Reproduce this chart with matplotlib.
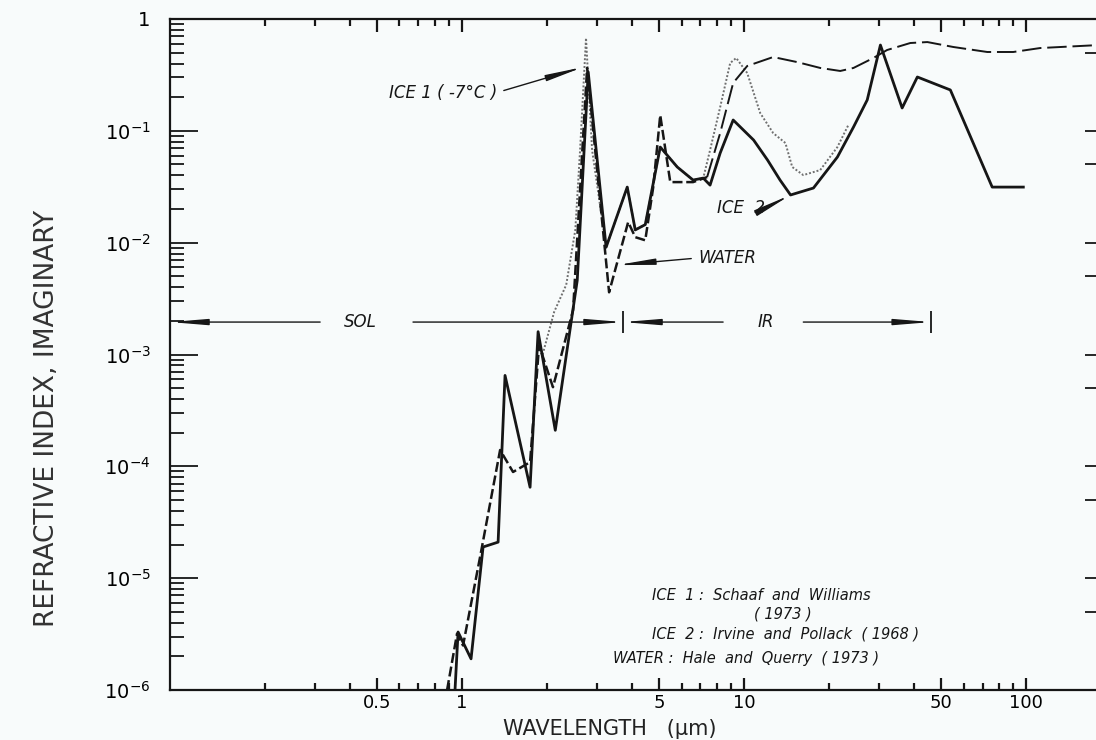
import matplotlib
matplotlib.use('Agg')
import matplotlib.pyplot as plt
from matplotlib.ticker import FixedLocator, NullFormatter, NullLocator, LogLocator

plt.rcParams['font.family'] = ['DejaVu Sans']

# ICE 2 : Irvine and Pollack (1968) -- solid line
ice2_wl = [0.944, 0.968, 1.076, 1.187, 1.342, 1.42, 1.742, 1.86, 2.14, 2.56, 2.80,
           3.24, 3.85, 4.11, 4.46, 5.04, 5.79, 6.59, 7.16, 7.57, 8.22, 9.14, 10.8,
           12.1, 13.4, 14.6, 17.6, 21.4, 24.4, 27.3, 30.4, 36.3, 41.1, 53.8, 75.7, 97.6]
ice2_k = [1.0e-6, 3.3e-6, 1.9e-6, 1.9e-5, 2.1e-5, 6.5e-4, 6.5e-5, 1.6e-3, 2.1e-4, 4.6e-3, 0.336,
          9.1e-3, 0.0314, 0.013, 0.0145, 0.0716, 0.0475, 0.0363, 0.0378, 0.0327, 0.0633, 0.125, 0.0827,
          0.0548, 0.0363, 0.0267, 0.0308, 0.0583, 0.108, 0.189, 0.585, 0.16, 0.303, 0.232, 0.0314, 0.0314]

# ICE 1 : Schaaf and Williams (1973), -7 C -- dotted line
ice1_wl = [1.93, 2.12, 2.34, 2.52, 2.62, 2.75, 2.89, 3.24, 3.85, 4.11, 4.46, 5.04, 5.79,
           6.59, 7.16, 7.57, 8.22, 8.92, 9.37, 10.25, 11.4, 12.67, 14.0, 14.8, 16.2, 18.6, 21.4, 23.4]
ice1_k = [1.0e-3, 2.4e-3, 4.2e-3, 0.013, 0.0673, 0.676, 0.0673, 9.1e-3, 0.0314, 0.013, 0.0145, 0.0716, 0.0475,
          0.0363, 0.0378, 0.0673, 0.163, 0.404, 0.448, 0.329, 0.144, 0.0955, 0.0778, 0.0475, 0.0402, 0.0446, 0.0716, 0.1127]

# WATER : Hale and Querry (1973) -- short dashes (solar / near IR)
water_wl = [0.885, 0.96, 1.008, 1.158, 1.364, 1.516, 1.742, 1.875, 2.10, 2.475, 2.775,
            3.32, 3.88, 4.11, 4.46, 4.76, 5.04, 5.47, 6.59, 7.39]
water_k = [1.0e-6, 3.2e-6, 2.5e-6, 1.54e-5, 1.4e-4, 8.9e-5, 1.09e-4, 1.21e-3, 5.1e-4, 2.5e-3, 0.365,
           3.6e-3, 0.0153, 0.0112, 0.0105, 0.0314, 0.138, 0.0348, 0.0348, 0.0386]

# WATER -- long dashes (far IR)
water_ir_wl = [7.39, 8.22, 9.14, 10.25, 12.67, 15.4, 18.6, 21.9, 24.4, 28.7, 32.1,
               38.8, 44.6, 55.1, 72.7, 89.9, 112, 181]
water_ir_k = [0.0386, 0.0955, 0.268, 0.38, 0.457, 0.412, 0.365, 0.343, 0.365, 0.448, 0.528,
              0.61, 0.622, 0.562, 0.507, 0.507, 0.55, 0.585]

x_major = [0.5, 1, 5, 10, 50, 100]
x_labels = ['0.5', '1', '5', '10', '50', '100']
x_minor = [0.2, 0.3, 0.4, 0.6, 0.7, 0.8, 0.9, 2, 3, 4, 6, 7, 8, 9,
           20, 30, 40, 60, 70, 80, 90]
y_major = [1e-6, 1e-5, 1e-4, 1e-3, 1e-2, 1e-1, 1]
y_labels = [r'$10^{-6}$', r'$10^{-5}$', r'$10^{-4}$', r'$10^{-3}$', r'$10^{-2}$', r'$10^{-1}$', '1']
y_right = [1e-6, 5e-6, 1e-5, 5e-5, 1e-4, 5e-4, 1e-3, 5e-3, 1e-2, 5e-2, 1e-1, 5e-1]

# SOL / IR band markers
x_start = 0.0922
sol_ir_edge = 3.72
ir_end = 46
band_k = 1.95e-3

bg = '#f8fbfb'
ink = '#161616'

fig = plt.figure(figsize=(10.96, 7.4), dpi=100, facecolor=bg)
ax = fig.add_axes([170/1096, 50/740, 929/1096, 671/740])
ax.set_facecolor(bg)
ax.set_xscale('log')
ax.set_yscale('log')
ax.set_xlim(x_start, 181)
ax.set_ylim(1e-6, 1)

ax.plot(ice1_wl, ice1_k, color='#6f6f6f', lw=1.4, linestyle=(0, (1, 1)))
ax.plot(water_wl, water_k, color=ink, lw=1.8, linestyle=(0, (4, 1.5)))
ax.plot(water_ir_wl, water_ir_k, color=ink, lw=1.4, linestyle=(0, (10, 3)))
ax.plot(ice2_wl, ice2_k, color=ink, lw=2.0)

for s in ['left', 'bottom', 'top']:
    ax.spines[s].set_linewidth(1.6)
    ax.spines[s].set_color(ink)
ax.spines['right'].set_visible(False)

ax.xaxis.set_major_locator(FixedLocator(x_major))
ax.set_xticklabels(x_labels)
ax.xaxis.set_minor_locator(FixedLocator(x_minor))
ax.xaxis.set_minor_formatter(NullFormatter())
ax.tick_params(axis='x', which='both', direction='in', top=True, bottom=True, color=ink)
ax.tick_params(axis='x', which='major', length=9, width=1.6, labelsize=13, pad=3)
ax.tick_params(axis='x', which='minor', length=5, width=1.6)

ax.yaxis.set_major_locator(FixedLocator(y_major))
ax.set_yticklabels(y_labels)
ax.yaxis.set_minor_locator(LogLocator(base=10, subs=range(2, 10), numticks=20))
ax.yaxis.set_minor_formatter(NullFormatter())
ax.tick_params(axis='y', which='both', direction='in', left=True, right=False, color=ink)
ax.tick_params(axis='y', which='major', length=20, width=1.3, labelsize=14, pad=14)
ax.tick_params(axis='y', which='minor', length=10, width=1.3)

axr = ax.twinx()
axr.set_yscale('log')
axr.set_ylim(ax.get_ylim())
axr.yaxis.set_major_locator(FixedLocator(y_right))
axr.yaxis.set_minor_locator(NullLocator())
axr.tick_params(axis='y', direction='in', length=10, width=1.3, labelright=False, color=ink)
for s in axr.spines.values():
    s.set_visible(False)

arrow_kw = dict(arrowstyle='-|>,head_length=1.1,head_width=0.09', color=ink, lw=1.0,
                mutation_scale=20, shrinkA=3, shrinkB=0)
txt_kw = dict(fontsize=12, style='italic', color=ink)
note_kw = dict(fontsize=10.5, style='italic', color=ink, ha='left', va='center')

ax.annotate('ICE 1 ( -7°C )', xy=(2.69, 0.372), xytext=(1.33, 0.22), ha='right', va='center',
            arrowprops=dict(arrow_kw, relpos=(1, 0.5)), **txt_kw)
ax.annotate('ICE  2', xy=(14.6, 0.0267), xytext=(11.9, 0.0204), ha='right', va='center',
            arrowprops=dict(arrow_kw, relpos=(1, 0.5)), **txt_kw)
ax.annotate('WATER', xy=(3.54, 6.3e-3), xytext=(6.87, 7.3e-3), ha='left', va='center',
            arrowprops=dict(arrow_kw, relpos=(0, 0.5)), **txt_kw)

# SOL / IR band
band_kw = dict(arrow_kw, shrinkA=0)
ax.annotate('', xy=(x_start, band_k), xytext=(0.314, band_k), arrowprops=band_kw)
ax.text(0.435, band_k, 'SOL', ha='center', va='center', **txt_kw)
ax.annotate('', xy=(sol_ir_edge, band_k), xytext=(0.67, band_k), arrowprops=band_kw)
ax.annotate('', xy=(sol_ir_edge, band_k), xytext=(8.42, band_k), arrowprops=band_kw)
ax.text(11.97, band_k, 'IR', ha='center', va='center', **txt_kw)
ax.annotate('', xy=(ir_end, band_k), xytext=(16.2, band_k), arrowprops=band_kw)
ax.plot([sol_ir_edge, ir_end], [band_k, band_k], ls='none', marker='|', ms=16, mew=1.3, color=ink)

# source notes
ax.text(4.72, 7.05e-6, 'ICE  1 :  Schaaf  and  Williams', **note_kw)
ax.text(10.8, 4.8e-6, '( 1973 )', **note_kw)
ax.text(4.72, 3.15e-6, 'ICE  2 :  Irvine  and  Pollack  ( 1968 )', **note_kw)
ax.text(3.43, 1.9e-6, 'WATER :  Hale  and  Querry  ( 1973 )', **note_kw)

fig.text(610/1096, 1 - 729/740, 'WAVELENGTH   (μm)', ha='center', va='center',
         fontsize=15, color='#222222')
fig.text(47/1096, 1 - 418/740, 'REFRACTIVE INDEX, IMAGINARY', rotation=90, ha='center',
         va='center', fontsize=19, color='#333333')

fig.savefig('out.png', dpi=100, facecolor=bg)
